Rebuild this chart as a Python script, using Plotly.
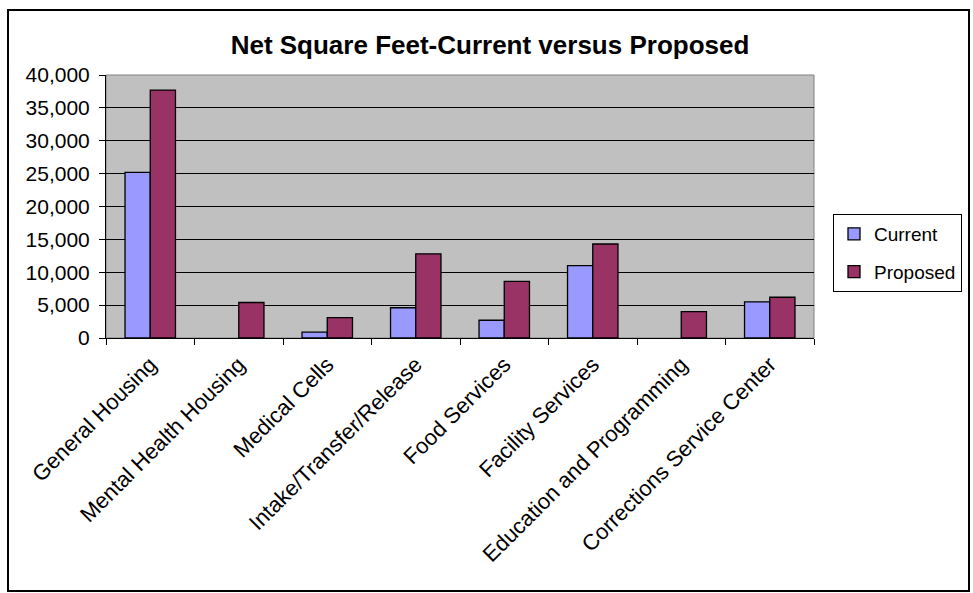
import plotly.graph_objects as go

categories = ["General Housing", "Mental Health Housing", "Medical Cells",
              "Intake/Transfer/Release", "Food Services", "Facility Services",
              "Education and Programming", "Corrections Service Center"]
current = [25200, 0, 900, 4600, 2700, 11000, 0, 5500]
proposed = [37700, 5400, 3100, 12800, 8600, 14300, 4000, 6200]
y_ticks = [0, 5000, 10000, 15000, 20000, 25000, 30000, 35000, 40000]

W, H = 973, 593
L, R, T, B = 106, 814, 75, 338
FONT = "Liberation Sans, Arial, sans-serif"

def outline(vals):
    return [1.3 if v > 0 else 0 for v in vals]

fig = go.Figure()
fig.add_trace(go.Bar(x=categories, y=current, name="Current", legendgroup="a",
                     marker=dict(color="#9999FF", line=dict(color="black", width=outline(current)))))
fig.add_trace(go.Bar(x=categories, y=proposed, name="Proposed", legendgroup="b",
                     marker=dict(color="#993366", line=dict(color="black", width=outline(proposed)))))

def px_x(x):
    return (x - L) / (R - L)

def px_y(y):
    return (B - y) / (B - T)

fig.update_layout(
    width=W, height=H,
    margin=dict(l=L, r=W - R, t=T, b=H - B, autoexpand=False),
    paper_bgcolor="white", plot_bgcolor="#C0C0C0",
    font=dict(family=FONT, color="black", size=20),
    title=dict(text="<b>Net Square Feet-Current versus Proposed</b>",
               x=490 / W, xanchor="center", xref="container", y=(H - 45) / H, yanchor="middle",
               font=dict(size=26, family=FONT)),
    bargap=0.43, bargroupgap=0,
    barmode="group",
    showlegend=True,
    legend=dict(x=px_x(833), y=px_y(214), xanchor="left", yanchor="top",
                bgcolor="white", bordercolor="black", borderwidth=1,
                font=dict(size=19), traceorder="grouped", tracegroupgap=10,
                itemwidth=30),
    xaxis=dict(showline=True, linecolor="black", linewidth=1, automargin=False,
               ticks="outside", tickson="boundaries", ticklen=6, tickcolor="black",
               tickangle=-45, showgrid=False, tickfont=dict(size=22),
               ticklabelstandoff=4),
    yaxis=dict(range=[0, 40000], tickvals=y_ticks, tickformat=",", automargin=False,
               showline=True, linecolor="black", linewidth=1,
               ticks="outside", ticklen=6, tickcolor="black",
               showgrid=True, gridcolor="black", gridwidth=1,
               zeroline=False, tickfont=dict(size=21), ticklabelstandoff=5),
    shapes=[
        dict(type="rect", xref="paper", yref="paper", x0=0, x1=1, y0=0, y1=1,
             line=dict(color="#808080", width=1), layer="below"),
        dict(type="rect", xref="paper", yref="paper",
             x0=px_x(8), x1=px_x(969), y0=px_y(591), y1=px_y(10),
             line=dict(color="black", width=2)),
    ],
)

fig.write_html("out.html")
